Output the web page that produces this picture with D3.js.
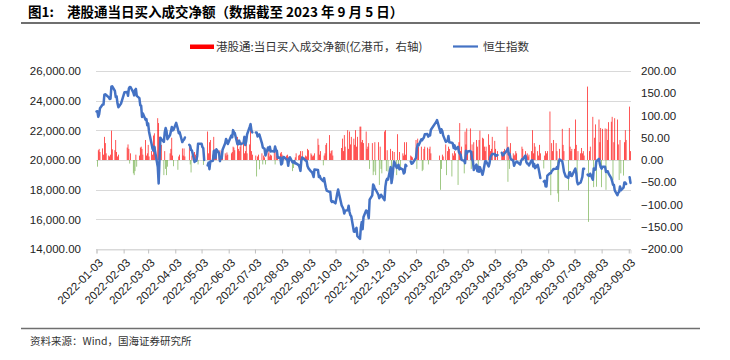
<!DOCTYPE html>
<html><head><meta charset="utf-8">
<script src="https://cdn.jsdelivr.net/npm/d3@7"></script>
<style>
body{margin:0;background:#fff;}
svg{display:block;}
</style></head><body>
<svg id="c" width="730" height="360"></svg>
<script>
const dates = [
"2022-01-03","2022-01-04","2022-01-05","2022-01-06","2022-01-07","2022-01-10","2022-01-11","2022-01-12","2022-01-13","2022-01-14","2022-01-17","2022-01-18","2022-01-19","2022-01-20","2022-01-21","2022-01-24","2022-01-25","2022-01-26","2022-01-27","2022-01-28","2022-01-31",
"2022-02-04","2022-02-07","2022-02-08","2022-02-09","2022-02-10","2022-02-11","2022-02-14","2022-02-15","2022-02-16","2022-02-17","2022-02-18","2022-02-21","2022-02-22","2022-02-23","2022-02-24","2022-02-25","2022-02-28",
"2022-03-01","2022-03-02","2022-03-03","2022-03-04","2022-03-07","2022-03-08","2022-03-09","2022-03-10","2022-03-11","2022-03-14","2022-03-15","2022-03-16","2022-03-17","2022-03-18","2022-03-21","2022-03-22","2022-03-23","2022-03-24","2022-03-25","2022-03-28","2022-03-29","2022-03-30","2022-03-31",
"2022-04-01","2022-04-04","2022-04-06","2022-04-07","2022-04-08","2022-04-11","2022-04-12","2022-04-13","2022-04-14","2022-04-15","2022-04-18","2022-04-19","2022-04-20","2022-04-21","2022-04-22","2022-04-25","2022-04-26","2022-04-27","2022-04-28","2022-04-29",
"2022-05-03","2022-05-04","2022-05-05","2022-05-06","2022-05-09","2022-05-10","2022-05-11","2022-05-12","2022-05-13","2022-05-16","2022-05-17","2022-05-18","2022-05-19","2022-05-20","2022-05-23","2022-05-24","2022-05-25","2022-05-26","2022-05-27","2022-05-30","2022-05-31",
"2022-06-01","2022-06-02","2022-06-06","2022-06-07","2022-06-08","2022-06-09","2022-06-10","2022-06-13","2022-06-14","2022-06-15","2022-06-16","2022-06-17","2022-06-20","2022-06-21","2022-06-22","2022-06-23","2022-06-24","2022-06-27","2022-06-28","2022-06-29","2022-06-30",
"2022-07-01","2022-07-04","2022-07-05","2022-07-06","2022-07-07","2022-07-08","2022-07-11","2022-07-12","2022-07-13","2022-07-14","2022-07-15","2022-07-18","2022-07-19","2022-07-20","2022-07-21","2022-07-22","2022-07-25","2022-07-26","2022-07-27","2022-07-28","2022-07-29",
"2022-08-01","2022-08-02","2022-08-03","2022-08-04","2022-08-05","2022-08-08","2022-08-09","2022-08-10","2022-08-11","2022-08-12","2022-08-15","2022-08-16","2022-08-17","2022-08-18","2022-08-19","2022-08-22","2022-08-23","2022-08-24","2022-08-25","2022-08-26","2022-08-29","2022-08-30","2022-08-31",
"2022-09-01","2022-09-02","2022-09-05","2022-09-06","2022-09-07","2022-09-08","2022-09-09","2022-09-13","2022-09-14","2022-09-15","2022-09-16","2022-09-19","2022-09-20","2022-09-21","2022-09-22","2022-09-23","2022-09-26","2022-09-27","2022-09-28","2022-09-29","2022-09-30",
"2022-10-03","2022-10-05","2022-10-06","2022-10-07","2022-10-10","2022-10-11","2022-10-12","2022-10-13","2022-10-14","2022-10-17","2022-10-18","2022-10-19","2022-10-20","2022-10-21","2022-10-24","2022-10-25","2022-10-26","2022-10-27","2022-10-28","2022-10-31",
"2022-11-01","2022-11-02","2022-11-03","2022-11-04","2022-11-07","2022-11-08","2022-11-09","2022-11-10","2022-11-11","2022-11-14","2022-11-15","2022-11-16","2022-11-17","2022-11-18","2022-11-21","2022-11-22","2022-11-23","2022-11-24","2022-11-25","2022-11-28","2022-11-29","2022-11-30",
"2022-12-01","2022-12-02","2022-12-05","2022-12-06","2022-12-07","2022-12-08","2022-12-09","2022-12-12","2022-12-13","2022-12-14","2022-12-15","2022-12-16","2022-12-19","2022-12-20","2022-12-21","2022-12-22","2022-12-23","2022-12-26","2022-12-27","2022-12-28","2022-12-29","2022-12-30",
"2023-01-03","2023-01-04","2023-01-05","2023-01-06","2023-01-09","2023-01-10","2023-01-11","2023-01-12","2023-01-13","2023-01-16","2023-01-17","2023-01-18","2023-01-19","2023-01-20","2023-01-26","2023-01-27","2023-01-30","2023-01-31",
"2023-02-01","2023-02-02","2023-02-03","2023-02-06","2023-02-07","2023-02-08","2023-02-09","2023-02-10","2023-02-13","2023-02-14","2023-02-15","2023-02-16","2023-02-17","2023-02-20","2023-02-21","2023-02-22","2023-02-23","2023-02-24","2023-02-27","2023-02-28",
"2023-03-01","2023-03-02","2023-03-03","2023-03-06","2023-03-07","2023-03-08","2023-03-09","2023-03-10","2023-03-13","2023-03-14","2023-03-15","2023-03-16","2023-03-17","2023-03-20","2023-03-21","2023-03-22","2023-03-23","2023-03-24","2023-03-27","2023-03-28","2023-03-29","2023-03-30","2023-03-31",
"2023-04-03","2023-04-04","2023-04-06","2023-04-07","2023-04-10","2023-04-11","2023-04-12","2023-04-13","2023-04-14","2023-04-17","2023-04-18","2023-04-19","2023-04-20","2023-04-21","2023-04-24","2023-04-25","2023-04-26","2023-04-27","2023-04-28",
"2023-05-02","2023-05-03","2023-05-04","2023-05-05","2023-05-08","2023-05-09","2023-05-10","2023-05-11","2023-05-12","2023-05-15","2023-05-16","2023-05-17","2023-05-18","2023-05-19","2023-05-22","2023-05-23","2023-05-24","2023-05-25","2023-05-26","2023-05-29","2023-05-30","2023-05-31",
"2023-06-01","2023-06-02","2023-06-05","2023-06-06","2023-06-07","2023-06-08","2023-06-09","2023-06-12","2023-06-13","2023-06-14","2023-06-15","2023-06-16","2023-06-19","2023-06-20","2023-06-21","2023-06-23","2023-06-26","2023-06-27","2023-06-28","2023-06-29","2023-06-30",
"2023-07-03","2023-07-04","2023-07-05","2023-07-06","2023-07-07","2023-07-10","2023-07-11","2023-07-12","2023-07-13","2023-07-14","2023-07-17","2023-07-18","2023-07-19","2023-07-20","2023-07-21","2023-07-24","2023-07-25","2023-07-26","2023-07-27","2023-07-28","2023-07-31",
"2023-08-01","2023-08-02","2023-08-03","2023-08-04","2023-08-07","2023-08-08","2023-08-09","2023-08-10","2023-08-11","2023-08-14","2023-08-15","2023-08-16","2023-08-17","2023-08-18","2023-08-21","2023-08-22","2023-08-23","2023-08-24","2023-08-25","2023-08-28","2023-08-29","2023-08-30","2023-08-31",
"2023-09-01","2023-09-04","2023-09-05"
];

// 恒生指数 (left axis)
const hsi = [
23274,23289,22907,23072,23493,23746,23739,24402,24430,24383,24218,24112,24127,24952,24965,24656,24243,24289,23807,23550,23802,
24573,24579,24329,24829,24924,24906,24556,24355,24718,24792,24327,24170,23689,23660,22901,23142,22713,
22761,22344,22467,21905,21057,20765,20627,20890,20554,19531,18415,20087,21501,21412,21221,21889,22154,21945,21404,21684,21927,22232,21997,
22039,22502,22080,21808,21872,21209,21319,21374,21518,null,null,21027,20944,20682,20638,19869,19934,19946,20276,21089,
21101,20870,20793,20002,null,19634,19824,19380,19899,19950,20602,20644,20120,20717,20471,19924,20171,20117,20697,21124,21415,
21294,21082,21653,21531,22014,21869,21806,21067,21068,21308,21075,21075,21163,21559,21008,21273,21719,22229,22419,21996,21860,
null,21853,21853,21587,21644,21726,21125,20845,20797,20751,20297,20846,20662,20891,20575,20610,20563,20906,20670,20622,20157,
20165,19689,19767,20174,20202,20046,20003,19610,20082,20176,19831,19831,19922,19764,19774,19657,19503,19268,19968,20170,20023,19949,19954,
19597,19452,19225,19203,19044,18854,19362,19326,18847,18930,18762,18566,18781,18445,18147,17933,17855,17860,17251,17165,17223,
17079,17740,18013,17740,16944,16832,16702,16389,16588,16615,16914,16512,16281,16211,15180,15165,15318,15428,14863,14687,
15455,15827,15339,16161,16596,16558,16359,16081,17326,17620,18344,18257,18046,17993,17656,17424,17524,17660,17574,17298,18205,18597,
18736,18676,19519,18442,18815,19450,19901,19464,19597,19674,19369,19451,19353,19095,19160,19680,19593,null,null,19898,19742,19781,
20145,20794,21052,20992,21388,21331,21436,21514,21738,21746,21578,21678,21651,22044,22567,22689,22070,21842,
22072,21958,21660,21222,21299,21283,21625,21190,21164,21114,20812,20987,20719,20887,20529,20424,20351,20011,19944,19786,
20620,20430,20568,20603,20535,20052,19926,19320,19696,19249,19539,19204,19519,19001,19259,19592,19916,19916,19568,19785,20193,20310,20400,
20409,20275,20332,null,null,20486,20310,20345,20438,20651,20782,20367,20397,20076,19959,19618,19757,19841,19895,
19699,19934,20049,20049,20298,19868,19762,19743,19628,19972,19978,19561,19727,19451,19679,19432,19115,18783,null,18551,18595,18234,
18216,18950,19109,19099,19253,19300,19390,19405,19522,19409,19829,20041,19913,19607,19219,18890,18794,19149,19173,18935,18916,
19306,19416,19110,18534,18366,18479,18660,18860,19414,19414,null,19016,18952,18929,19075,18668,19434,19342,19363,19917,20079,
19734,19518,19421,19539,19537,19184,19246,19248,19075,18773,18582,18329,18327,17951,17624,17792,17846,18212,17957,18131,18485,18482,18382,
null,18844,18456
];

// 港股通:当日买入成交净额 (亿港币, right axis)
const netBuy = [
null,-15,22,25,18,26,12,52,38,15,10,8,12,66,24,22,45,18,8,12,null,
null,28,35,25,-8,15,-30,-34,-25,12,-15,10,28,30,25,12,45,
10,15,34,8,20,12,55,60,30,94,83,52,18,34,-34,20,-20,-34,-15,15,25,50,10,
-14,null,-22,8,12,26,10,26,8,null,null,30,-10,-28,10,18,12,8,14,-10,
null,null,-11,8,null,64,15,40,45,12,52,20,22,18,10,22,8,20,12,15,10,
17,12,15,18,30,28,22,52,25,20,30,41,52,15,20,48,15,35,80,20,12,
null,10,-37,8,12,-21,15,-10,10,6,-10,15,20,8,12,10,26,-10,26,10,12,
15,18,12,6,8,10,12,6,8,5,-25,-18,-8,6,15,10,12,20,8,20,6,10,8,
25,22,15,12,8,10,15,48,34,12,20,-12,10,15,34,38,56,15,20,22,10,
null,null,null,null,27,48,20,56,30,67,25,64,35,52,48,34,67,30,52,75,
75,40,45,38,64,25,30,38,-20,38,-34,-26,40,-34,40,-56,30,-20,-30,64,67,-25,
22,-26,25,-23,20,-15,18,-34,58,-20,18,-20,15,10,40,12,40,null,null,10,8,6,
45,-20,48,30,30,-25,-22,25,30,28,-10,25,30,15,null,null,10,-67,
-20,12,8,35,-34,20,30,25,-37,15,10,20,15,-56,40,83,20,30,-30,64,
35,71,20,71,-20,35,20,40,45,30,-20,45,66,50,48,30,20,30,58,34,20,25,52,
43,25,20,null,null,15,12,20,25,75,-49,30,-20,38,15,10,12,20,15,
null,null,30,25,20,10,15,8,12,20,67,15,38,30,20,10,34,15,null,-19,10,20,
15,20,109,-79,38,20,45,38,20,-75,-94,25,70,34,20,null,-68,72,30,20,25,
25,91,34,-45,20,15,27,15,20,10,null,165,-139,20,30,97,-61,50,80,-60,91,
40,72,-61,70,71,-67,70,45,85,86,97,-45,40,94,91,35,-45,45,-30,-35,40,67,45,
null,120,20
];

const leftTicks = [14000,16000,18000,20000,22000,24000,26000];
const rightTicks = [-200,-150,-100,-50,0,50,100,150,200];
const xTickLabels = ["2022-01-03","2022-02-03","2022-03-03","2022-04-03","2022-05-03","2022-06-03","2022-07-03","2022-08-03","2022-09-03","2022-10-03","2022-11-03","2022-12-03","2023-01-03","2023-02-03","2023-03-03","2023-04-03","2023-05-03","2023-06-03","2023-07-03","2023-08-03","2023-09-03"];
const seriesNames = ["港股通:当日买入成交净额(亿港币，右轴)","恒生指数"];
const titleLead = "图1:";
const titleText = "港股通当日买入成交净额（数据截至 2023 年 9 月 5 日）";
const sourceText = "资料来源：Wind，国海证券研究所";

const svg = d3.select("#c");
svg.append("rect").attr("width",730).attr("height",360).attr("fill","#fff");
const parse = d3.timeParse("%Y-%m-%d");
const data = dates.map((d,i)=>({date:parse(d), hsi:hsi[i], net:netBuy[i]}));

const plotL = 96, plotR = 631, plotT = 71, plotB = 249;
const x = d3.scaleTime().domain([parse("2022-01-03"), parse("2023-09-05")]).range([plotL+0.5, plotR-0.5]);
const yL = d3.scaleLinear().domain([14000,26000]).range([plotB, plotT]);
const yR = d3.scaleLinear().domain([-200,200]).range([plotB, plotT]);

const numFont = "'Liberation Sans', Arial, sans-serif";
const cjkFont = "'Noto Sans CJK SC', sans-serif";

// title
svg.append("text").attr("x",28).attr("y",17).attr("font-family",cjkFont).attr("font-weight","bold")
  .attr("font-size",13.5).attr("fill","#000").text(titleLead);
svg.append("text").attr("x",67).attr("y",17).attr("font-family",cjkFont).attr("font-weight","bold")
  .attr("font-size",13.5).attr("fill","#000").text(titleText);
svg.append("line").attr("x1",21).attr("x2",700).attr("y1",23).attr("y2",23)
  .attr("stroke","#6f6f6f").attr("stroke-width",2);

// legend
svg.append("rect").attr("x",190).attr("y",44.5).attr("width",24).attr("height",4.5).attr("fill","#ff0000");
svg.append("text").attr("x",216).attr("y",51).attr("font-family",cjkFont).attr("font-size",11.5)
  .attr("fill","#333").text(seriesNames[0]);
svg.append("line").attr("x1",453).attr("x2",478).attr("y1",46.5).attr("y2",46.5)
  .attr("stroke","#4472c4").attr("stroke-width",2.2);
svg.append("text").attr("x",483).attr("y",51).attr("font-family",cjkFont).attr("font-size",11.5)
  .attr("fill","#333").text(seriesNames[1]);

// gridlines
svg.append("g").selectAll("line").data(leftTicks).join("line")
  .attr("x1",plotL).attr("x2",plotR)
  .attr("y1",d=>Math.round(yL(d))+0.5).attr("y2",d=>Math.round(yL(d))+0.5)
  .attr("stroke","#d9d9d9").attr("stroke-width",1);

// left axis
const gL = svg.append("g").attr("transform",`translate(${plotL-15},0)`)
  .call(d3.axisLeft(yL).tickValues(leftTicks).tickFormat(d3.format(",.2f")).tickSize(0).tickPadding(0));
gL.select(".domain").remove();
gL.selectAll("text").attr("font-family",numFont).attr("font-size",11.5).attr("fill","#222");

// right axis
const gR = svg.append("g").attr("transform",`translate(${plotR+10},0)`)
  .call(d3.axisRight(yR).tickValues(rightTicks).tickFormat(d3.format(".2f")).tickSize(0).tickPadding(0));
gR.select(".domain").remove();
gR.selectAll("text").attr("font-family",numFont).attr("font-size",11.5).attr("fill","#222");

// x axis
const gX = svg.append("g").attr("transform",`translate(0,${Math.round(plotB)+0.5})`)
  .call(d3.axisBottom(x).tickValues(xTickLabels.map(parse)).tickFormat(d3.timeFormat("%Y-%m-%d")).tickSize(4));
gX.select(".domain").attr("stroke","#d9d9d9");
gX.selectAll(".tick line").attr("stroke","#bfbfbf");
gX.selectAll("text").attr("font-family",numFont).attr("font-size",11.5).attr("fill","#222")
  .attr("y",0).attr("dy","0.35em").attr("text-anchor","end")
  .attr("transform","translate(4,11) rotate(-45)");

// bars
const y0 = yR(0);
svg.append("g").selectAll("rect").data(data.filter(d=>d.net!=null)).join("rect")
  .attr("x",d=>x(d.date)-0.33).attr("width",0.66)
  .attr("y",d=>Math.min(yR(d.net),y0)).attr("height",d=>Math.abs(yR(d.net)-y0))
  .attr("fill",d=>d.net>=0?"#ff0000":"#70ad47");

// HSI line
const line = d3.line().defined(d=>d.hsi!=null).x(d=>x(d.date)).y(d=>yL(d.hsi));
svg.append("path").datum(data).attr("d",line).attr("fill","none")
  .attr("stroke","#4472c4").attr("stroke-width",2.5).attr("stroke-linejoin","round").attr("stroke-linecap","round");

// source
svg.append("line").attr("x1",21).attr("x2",700).attr("y1",328.5).attr("y2",328.5)
  .attr("stroke","#6f6f6f").attr("stroke-width",1.5);
svg.append("text").attr("x",30).attr("y",345).attr("font-family",cjkFont).attr("font-size",10.5)
  .attr("fill","#333").text(sourceText);
</script>
</body></html>
